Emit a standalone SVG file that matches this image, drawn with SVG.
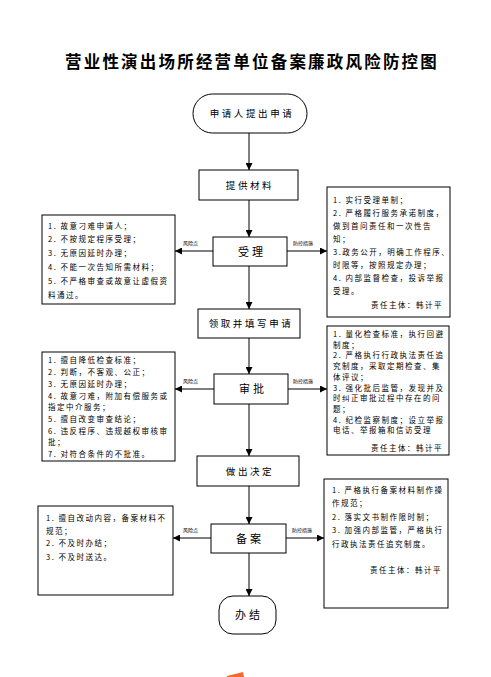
<svg xmlns="http://www.w3.org/2000/svg" width="491" height="677" viewBox="0 0 491 677">
<style>
.box{fill:#fff;stroke:#000;stroke-width:1}
.t{font-family:"Noto Sans CJK SC","Liberation Sans",sans-serif;fill:#000}
.node{font-size:9.5px;letter-spacing:2.6px;text-anchor:middle}
.big{font-size:11px;letter-spacing:3px;text-anchor:middle}
.side{font-size:7.5px;letter-spacing:1.5px}
.tiny{font-size:5px}
.ln{stroke:#000;stroke-width:1;fill:none}
.hl{stroke:#555;stroke-width:1.6;fill:none}
</style>
<defs>
<marker id="ah" viewBox="0 0 10 10" refX="10" refY="5" markerWidth="7" markerHeight="7" markerUnits="userSpaceOnUse" orient="auto">
<path d="M0,0 L10,5 L0,10 z" fill="#000"/>
</marker>
</defs>
<rect width="491" height="677" fill="#fff"/>
<text class="t" x="252" y="68" font-size="16.5" font-weight="bold" letter-spacing="2.2" text-anchor="middle">营业性演出场所经营单位备案廉政风险防控图</text>

<g id="connectors">
<line class="ln" x1="249" y1="133" x2="249" y2="170" marker-end="url(#ah)"/>
<line class="ln" x1="249" y1="200" x2="249" y2="237" marker-end="url(#ah)"/>
<line class="ln" x1="249" y1="266" x2="249" y2="309" marker-end="url(#ah)"/>
<line class="ln" x1="249" y1="338" x2="249" y2="374" marker-end="url(#ah)"/>
<line class="ln" x1="249" y1="404" x2="249" y2="456" marker-end="url(#ah)"/>
<line class="ln" x1="249" y1="486" x2="249" y2="524" marker-end="url(#ah)"/>
<line class="ln" x1="249" y1="553" x2="249" y2="596" marker-end="url(#ah)"/>
<line class="hl" x1="213" y1="251" x2="175" y2="251" marker-end="url(#ah)"/>
<line class="hl" x1="287" y1="251" x2="327" y2="251" marker-end="url(#ah)"/>
<line class="hl" x1="214" y1="389" x2="175" y2="389" marker-end="url(#ah)"/>
<line class="hl" x1="288" y1="389" x2="327" y2="389" marker-end="url(#ah)"/>
<line class="hl" x1="211" y1="538" x2="173" y2="538" marker-end="url(#ah)"/>
<line class="hl" x1="286" y1="538" x2="324" y2="538" marker-end="url(#ah)"/>
<text class="t tiny" x="183" y="245">风险点</text>
<text class="t tiny" x="293" y="245">防控措施</text>
<text class="t tiny" x="183" y="383">风险点</text>
<text class="t tiny" x="293" y="383">防控措施</text>
<text class="t tiny" x="183" y="532">风险点</text>
<text class="t tiny" x="292" y="532">防控措施</text>
</g>

<g id="n_start">
<rect class="box" x="193" y="94" width="114" height="39" rx="19.5"/>
<text class="t node" x="252" y="117">申请人提出申请</text>
</g>
<g id="n_tigong">
<rect class="box" x="199" y="170" width="99" height="30"/>
<text class="t node" x="250" y="189">提供材料</text>
</g>
<g id="n_shouli">
<rect class="box" x="213" y="237" width="74" height="29"/>
<text class="t big" x="252" y="256">受理</text>
</g>
<g id="n_lingqu">
<rect class="box" x="198" y="309" width="102" height="29"/>
<text class="t node" x="251" y="327">领取并填写申请</text>
</g>
<g id="n_shenpi">
<rect class="box" x="214" y="374" width="74" height="30"/>
<text class="t big" x="253" y="393">审批</text>
</g>
<g id="n_jueding">
<rect class="box" x="197" y="456" width="102" height="30"/>
<text class="t node" x="250" y="475">做出决定</text>
</g>
<g id="n_beian">
<rect class="box" x="211" y="524" width="75" height="29"/>
<text class="t big" x="250" y="543">备案</text>
</g>
<g id="n_end">
<rect class="box" x="219" y="596" width="57" height="38" rx="14"/>
<text class="t big" x="249" y="619">办结</text>
</g>

<g id="risk1">
<rect class="box" x="42" y="215" width="133" height="89"/>
<text class="t side" x="48">
<tspan x="48" y="229">1. 故意刁难申请人；</tspan>
<tspan x="48" y="242">2. 不按规定程序受理；</tspan>
<tspan x="48" y="256">3. 无原因延时办理；</tspan>
<tspan x="48" y="270">4. 不能一次告知所需材料；</tspan>
<tspan x="48" y="284">5. 不严格审查或故意让虚假资</tspan>
<tspan x="48" y="298">料通过。</tspan>
</text>
</g>
<g id="ctrl1">
<rect class="box" x="327" y="187" width="123" height="130"/>
<text class="t side" x="333">
<tspan x="333" y="203">1. 实行受理单制；</tspan>
<tspan x="333" y="216">2. 严格履行服务承诺制度，</tspan>
<tspan x="333" y="229">做到首问责任和一次性告</tspan>
<tspan x="333" y="242">知；</tspan>
<tspan x="333" y="255">3.政务公开，明确工作程序、</tspan>
<tspan x="333" y="268">时限等，按照规定办理；</tspan>
<tspan x="333" y="281">4. 内部监督检查，投诉举报</tspan>
<tspan x="333" y="294">受理。</tspan>
</text>
<text class="t side" x="443" y="308" text-anchor="end">责任主体：韩计平</text>
</g>

<g id="risk2">
<rect class="box" x="42" y="352" width="133" height="109"/>
<text class="t side" x="48">
<tspan x="48" y="363">1. 擅自降低检查标准；</tspan>
<tspan x="48" y="375">2. 判断，不客观、公正；</tspan>
<tspan x="48" y="387">3. 无原因延时办理；</tspan>
<tspan x="48" y="399">4. 故意刁难，附加有偿服务或</tspan>
<tspan x="48" y="410">指定中介服务；</tspan>
<tspan x="48" y="422">5. 擅自改变审查结论；</tspan>
<tspan x="48" y="434">6. 违反程序、违规越权审核审</tspan>
<tspan x="48" y="445">批；</tspan>
<tspan x="48" y="457">7. 对符合条件的不批准。</tspan>
</text>
</g>
<g id="ctrl2">
<rect class="box" x="327" y="326" width="122" height="129"/>
<text class="t side" x="333">
<tspan x="333" y="337">1. 量化检查标准，执行回避</tspan>
<tspan x="333" y="348">制度；</tspan>
<tspan x="333" y="358">2. 严格执行行政执法责任追</tspan>
<tspan x="333" y="369">究制度，采取定期检查、集</tspan>
<tspan x="333" y="380">体评议；</tspan>
<tspan x="333" y="391">3. 强化批后监管，发现并及</tspan>
<tspan x="333" y="401">时纠正审批过程中存在的问</tspan>
<tspan x="333" y="412">题；</tspan>
<tspan x="333" y="423">4. 纪检监察制度；设立举报</tspan>
<tspan x="333" y="433">电话、举报箱和信访受理</tspan>
</text>
<text class="t side" x="443" y="451" text-anchor="end">责任主体：韩计平</text>
</g>

<g id="risk3">
<rect class="box" x="38" y="506" width="135" height="89"/>
<text class="t side" x="46">
<tspan x="46" y="521">1. 擅自改动内容，备案材料不</tspan>
<tspan x="46" y="534">规范；</tspan>
<tspan x="46" y="546">2. 不及时办结；</tspan>
<tspan x="46" y="560">3. 不及时送达。</tspan>
</text>
</g>
<g id="ctrl3">
<rect class="box" x="324" y="479" width="124" height="129"/>
<text class="t side" x="332">
<tspan x="332" y="493">1. 严格执行备案材料制作操</tspan>
<tspan x="332" y="506">作规范；</tspan>
<tspan x="332" y="520">2.  落实文书制作限时制；</tspan>
<tspan x="332" y="533">3. 加强内部监管，严格执行</tspan>
<tspan x="332" y="547">行政执法责任追究制度。</tspan>
</text>
<text class="t side" x="442" y="573" text-anchor="end">责任主体：韩计平</text>
</g>

<path d="M227,676 L243,672 L244,677 L227,677 z" fill="#f26b2a"/>
</svg>
